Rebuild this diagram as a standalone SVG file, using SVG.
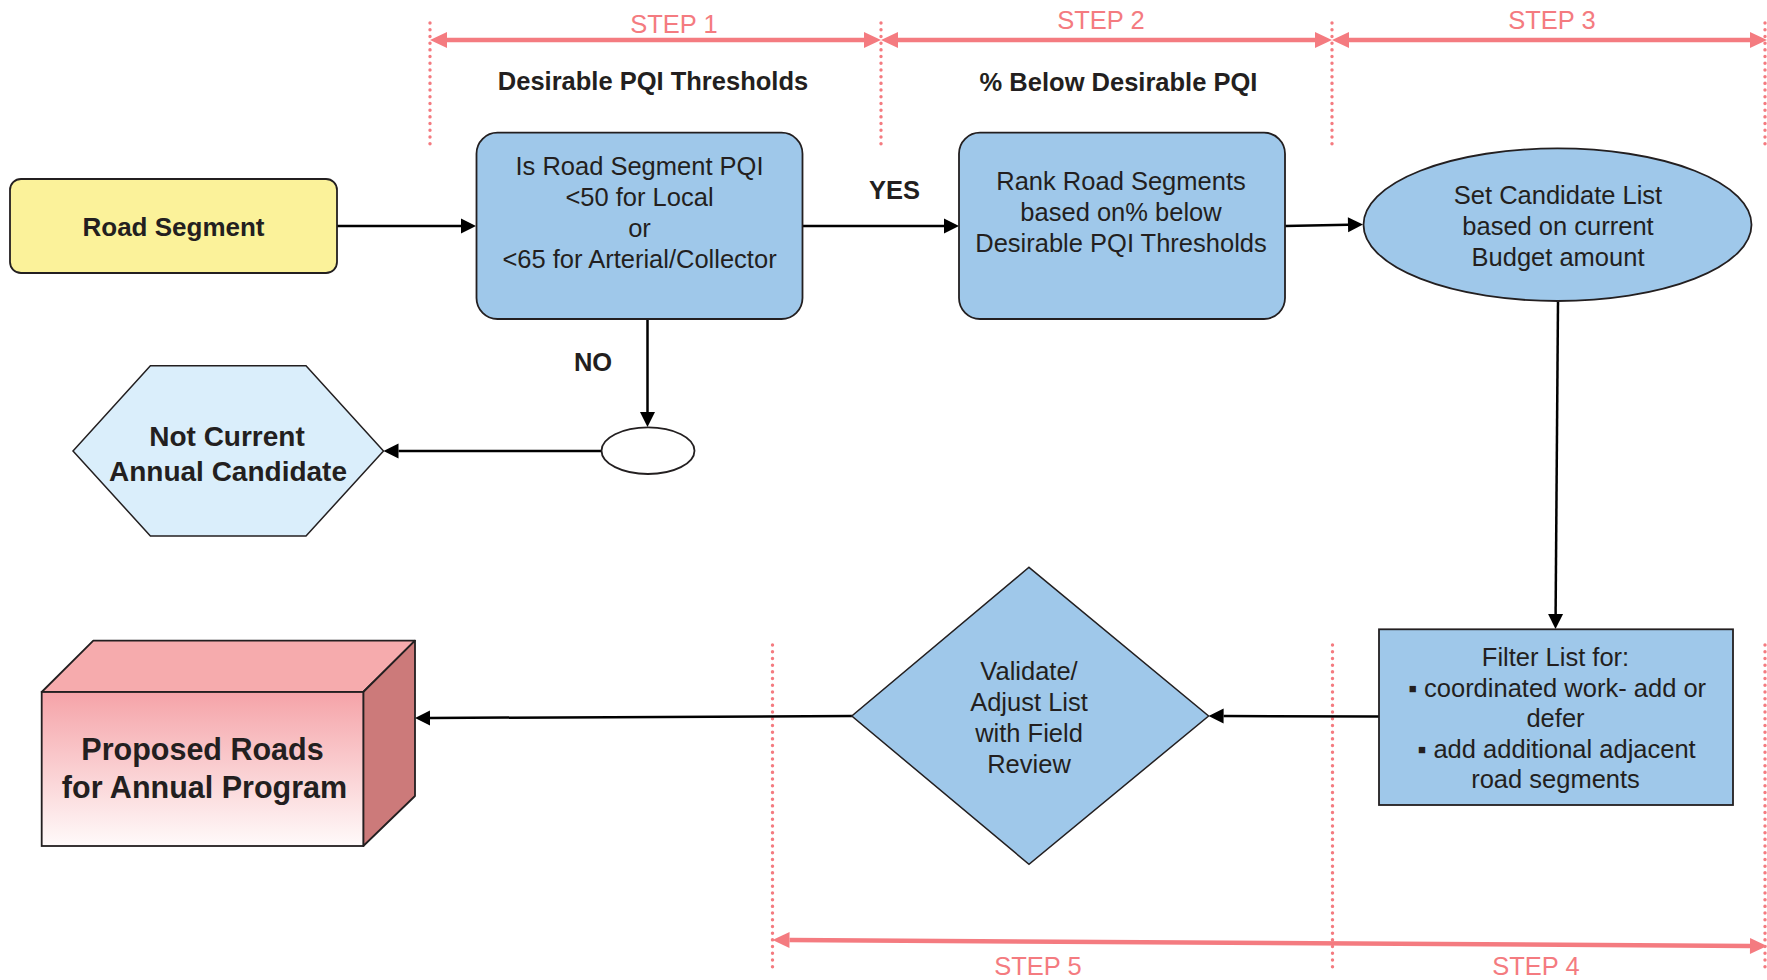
<svg xmlns="http://www.w3.org/2000/svg" width="1767" height="980" viewBox="0 0 1767 980">
<style>
.t{font-family:"Liberation Sans",Arial,sans-serif;fill:#231f20;font-size:25.5px;text-anchor:middle}
.b{font-weight:bold}
.step{font-family:"Liberation Sans",Arial,sans-serif;fill:#f47b80;font-size:25.5px;text-anchor:middle}
.dot{stroke:#f47b80;stroke-width:3.4;stroke-dasharray:0.1 6.6;stroke-linecap:round;fill:none}
.span{stroke:#f47b80;stroke-width:4.5;fill:none;marker-start:url(#pa);marker-end:url(#pa)}
.con{stroke:#000;stroke-width:2.5;fill:none}
.arr{marker-end:url(#ba)}
.blue{fill:#9fc8ea;stroke:#231f20;stroke-width:1.8}
</style>
<defs>
<marker id="pa" markerUnits="userSpaceOnUse" markerWidth="20" markerHeight="20" viewBox="0 -10 20 20" refX="0" refY="0" orient="auto-start-reverse" overflow="visible">
<path d="M0,-8 L17,0 L0,8 z" fill="#f47b80"/>
</marker>
<marker id="ba" markerUnits="userSpaceOnUse" markerWidth="18" markerHeight="18" viewBox="0 -9 18 18" refX="0" refY="0" orient="auto" overflow="visible">
<path d="M0,-7.5 L15,0 L0,7.5 z" fill="#000"/>
</marker>
<linearGradient id="pg" x1="0" y1="0" x2="0" y2="1">
<stop offset="0" stop-color="#f5a3a8"/>
<stop offset="1" stop-color="#fffafa"/>
</linearGradient>
</defs>
<rect width="1767" height="980" fill="#fff"/>

<g id="steps">
<line class="dot" x1="430" y1="23" x2="430" y2="145"/>
<line class="dot" x1="881" y1="23" x2="881" y2="145"/>
<line class="dot" x1="1332" y1="23" x2="1332" y2="145"/>
<line class="dot" x1="1765" y1="23" x2="1765" y2="145"/>
<line class="span" x1="447" y1="40" x2="864" y2="40"/>
<line class="span" x1="898" y1="40" x2="1315" y2="40"/>
<line class="span" x1="1349" y1="40" x2="1750" y2="40"/>
<text class="step" x="674" y="33">STEP 1</text>
<text class="step" x="1101" y="29">STEP 2</text>
<text class="step" x="1552" y="29">STEP 3</text>
<line class="dot" x1="772.5" y1="645" x2="772.5" y2="969"/>
<line class="dot" x1="1332.5" y1="645" x2="1332.5" y2="969"/>
<line class="dot" x1="1765" y1="645" x2="1765" y2="969"/>
<line class="span" x1="789.5" y1="940.1" x2="1750" y2="945.9"/>
<text class="step" x="1038" y="975">STEP 5</text>
<text class="step" x="1536" y="975">STEP 4</text>
<text class="t b" x="653" y="90">Desirable PQI Thresholds</text>
<text class="t b" x="1118.5" y="91">% Below Desirable PQI</text>
</g>

<g id="connectors">
<line class="con arr" x1="337" y1="226" x2="461" y2="226"/>
<line class="con arr" x1="802" y1="226" x2="944" y2="226"/>
<line class="con arr" x1="1285" y1="226" x2="1348" y2="224.7"/>
<line class="con arr" x1="647.5" y1="319" x2="647.5" y2="412"/>
<line class="con arr" x1="601.5" y1="451" x2="398.5" y2="451"/>
<line class="con arr" x1="1558" y1="301" x2="1555.6" y2="614"/>
<line class="con arr" x1="1379" y1="716.5" x2="1223.6" y2="716.1"/>
<line class="con arr" x1="852" y1="716" x2="430" y2="718"/>
<text class="t b" x="894.5" y="199">YES</text>
<text class="t b" x="593" y="371">NO</text>
</g>

<g id="road-segment">
<rect x="10" y="179" width="327" height="94" rx="11" fill="#fbf29a" stroke="#231f20" stroke-width="1.8"/>
<text class="t b" x="173.5" y="236" style="font-size:26px">Road Segment</text>
</g>

<g id="decision">
<rect class="blue" x="476.5" y="132.7" width="326" height="186.3" rx="21"/>
<text class="t" x="639.5" y="175">Is Road Segment PQI</text>
<text class="t" x="639.5" y="206">&lt;50 for Local</text>
<text class="t" x="639.5" y="237">or</text>
<text class="t" x="639.5" y="267.5">&lt;65 for Arterial/Collector</text>
</g>

<g id="rank">
<rect class="blue" x="959" y="132.7" width="326" height="186.3" rx="21"/>
<text class="t" x="1121" y="190">Rank Road Segments</text>
<text class="t" x="1121" y="221">based on% below</text>
<text class="t" x="1121" y="252">Desirable PQI Thresholds</text>
</g>

<g id="candidate-list">
<ellipse class="blue" cx="1557.5" cy="224.7" rx="194" ry="76.3"/>
<text class="t" x="1558" y="204">Set Candidate List</text>
<text class="t" x="1558" y="235">based on current</text>
<text class="t" x="1558" y="266">Budget amount</text>
</g>

<g id="junction">
<ellipse cx="648" cy="450.7" rx="46.5" ry="23.3" fill="#fff" stroke="#231f20" stroke-width="1.8"/>
</g>

<g id="not-current">
<polygon points="73,451 150.4,365.7 306,365.7 383.5,451 306,536 150.4,536" fill="#daeefb" stroke="#231f20" stroke-width="1.5"/>
<text class="t b" x="227" y="446" style="font-size:28px">Not Current</text>
<text class="t b" x="228" y="481" style="font-size:28px">Annual Candidate</text>
</g>

<g id="filter">
<rect class="blue" x="1379" y="629.3" width="354" height="175.7"/>
<text class="t" x="1555.5" y="666">Filter List for:</text>
<text class="t" x="1557" y="696.5">▪ coordinated work- add or</text>
<text class="t" x="1555.5" y="726.5">defer</text>
<text class="t" x="1556.5" y="757.5">▪ add additional adjacent</text>
<text class="t" x="1555.5" y="788">road segments</text>
</g>

<g id="validate">
<polygon class="blue" points="1029,567.3 1208.6,716 1029,864.3 851.8,716" style="stroke-width:1.5"/>
<text class="t" x="1029" y="680">Validate/</text>
<text class="t" x="1029" y="711">Adjust List</text>
<text class="t" x="1029" y="741.5">with Field</text>
<text class="t" x="1029" y="772.5">Review</text>
</g>

<g id="proposed">
<polygon points="41.7,692 93.3,640.7 415,640.7 363.3,692" fill="#f6abad" stroke="#231f20" stroke-width="1.8" stroke-linejoin="round"/>
<polygon points="363.3,692 415,640.7 415,796 363.3,846" fill="#cc7a7a" stroke="#231f20" stroke-width="1.8" stroke-linejoin="round"/>
<rect x="41.7" y="692" width="321.6" height="154" fill="url(#pg)" stroke="#231f20" stroke-width="1.8"/>
<text class="t b" x="202.5" y="760" style="font-size:30.5px">Proposed Roads</text>
<text class="t b" x="204.5" y="797.5" style="font-size:30.5px">for Annual Program</text>
</g>
</svg>
